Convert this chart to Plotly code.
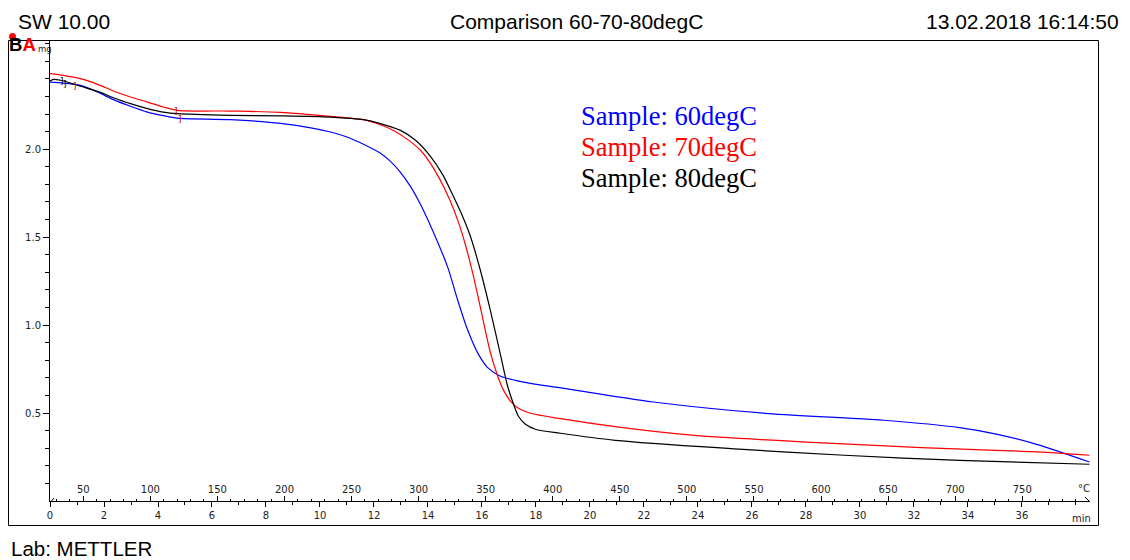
import plotly.graph_objects as go

# ---------------- data (time in min, mass in mg) ----------------
t_60 = [0.0, 0.50, 1.13, 1.76, 2.35, 2.98, 3.61, 4.20, 4.72, 6.69, 8.54, 10.39, 11.02, 11.61, 12.24,
        12.61, 12.98, 13.35, 13.72, 14.20, 14.72, 15.09, 15.46, 15.83, 16.20, 16.69, 17.24, 17.80, 18.80,
        22.35, 26.61, 30.87, 33.69, 35.09, 36.54, 38.50]
m_60 = [2.382, 2.376, 2.363, 2.325, 2.282, 2.244, 2.211, 2.191, 2.177, 2.168, 2.147, 2.098, 2.068, 2.028, 1.977,
        1.931, 1.869, 1.789, 1.687, 1.528, 1.334, 1.147, 0.976, 0.845, 0.760, 0.709, 0.686, 0.669, 0.646,
        0.563, 0.497, 0.459, 0.417, 0.379, 0.322, 0.222]

t_70 = [0.0, 0.50, 1.13, 1.76, 2.35, 2.98, 3.61, 4.20, 4.72, 6.69, 8.54, 10.39, 11.61, 12.24,
        12.72, 13.24, 13.72, 14.09, 14.46, 14.83, 15.13, 15.39, 15.65, 15.94, 16.31, 16.57, 16.80,
        17.06, 17.35, 17.80, 18.91, 21.00, 23.76, 28.02, 32.28, 36.54, 38.50]
m_70 = [2.430, 2.420, 2.401, 2.369, 2.331, 2.297, 2.268, 2.240, 2.221, 2.217, 2.210, 2.187, 2.168, 2.139,
        2.107, 2.056, 1.994, 1.920, 1.823, 1.704, 1.584, 1.454, 1.300, 1.101, 0.845, 0.715, 0.629,
        0.567, 0.527, 0.499, 0.468, 0.421, 0.374, 0.335, 0.304, 0.279, 0.260]

t_80 = [0.0, 0.13, 0.39, 0.76, 1.13, 1.76, 2.35, 2.98, 3.61, 4.20, 4.72, 6.69, 8.54, 10.39, 11.61,
        12.24, 12.98, 13.54, 14.09, 14.54, 14.94, 15.28, 15.57, 15.94, 16.31, 16.69, 16.94, 17.17,
        17.35, 17.61, 17.98, 18.91, 20.94, 25.20, 29.42, 33.69, 38.50]
m_80 = [2.388, 2.397, 2.392, 2.376, 2.358, 2.329, 2.293, 2.259, 2.231, 2.211, 2.202, 2.193, 2.190, 2.183, 2.168,
        2.146, 2.107, 2.051, 1.960, 1.857, 1.732, 1.619, 1.505, 1.312, 1.084, 0.828, 0.658, 0.550,
        0.482, 0.436, 0.408, 0.385, 0.345, 0.298, 0.260, 0.231, 0.209]

series_names = ["Sample: 60degC", "Sample: 70degC", "Sample: 80degC"]
series_colors = ["#0000ff", "#ff0000", "#000000"]

# evaluation-limit bracket marks (time, mass, glyph, colour, size)
brk_t = [-0.08, 0.43, 0.57, 0.94, 4.65, 4.80]
brk_m = [2.40, 2.39, 2.37, 2.36, 2.22, 2.17]
brk_g = ["[", "]", "]", "]", "]", "]"]
brk_c = ["#ff0000", "#000000", "#000000", "#ff0000", "#c00000", "#c00000"]
brk_s = [14, 9, 9, 9, 9, 9]

time_range = [0, 38.52]
time_ticks = list(range(0, 37, 2))
temp_range = [25.2, 800.5]
temp_ticks = list(range(50, 751, 50))
mass_range = [0, 2.621]
mass_ticks = [0, 0.5, 1.0, 1.5, 2.0]

title_left = "SW 10.00"
title_mid = "Comparison 60-70-80degC"
title_right = "13.02.2018 16:14:50"
footer = "Lab: METTLER"

# ---------------- layout geometry ----------------
# the page body has an 8 px margin, so the figure starts at screen (8, 8)
OFF = 8
W, H = 1130 - OFF, 560 - OFF
ML, MR, MT, MB = 42, 40, 32, 59
PW, PH = W - ML - MR, H - MT - MB


def px(x):
    """screen x -> paper x"""
    return (x - OFF - ML) / PW


def py(y):
    """screen y -> paper y"""
    return (OFF + H - MB - y) / PH


fig = go.Figure()
for t, m, name, col in zip([t_60, t_70, t_80], [m_60, m_70, m_80], series_names, series_colors):
    fig.add_trace(go.Scatter(x=t, y=m, mode="lines", name=name,
                             line=dict(color=col, width=1.2, shape="spline", smoothing=0.8),
                             showlegend=False))

# activate temperature axis
fig.add_trace(go.Scatter(x=temp_range, y=[None, None], xaxis="x2", mode="lines",
                         showlegend=False, hoverinfo="skip"))

tick_font = dict(family="DejaVu Sans", size=10, color="#222")

fig.update_layout(
    width=W, height=H,
    margin=dict(l=ML, r=MR, t=MT, b=MB),
    paper_bgcolor="white", plot_bgcolor="white",
    xaxis=dict(range=time_range, showgrid=False, zeroline=False, showline=True,
               linecolor="black", linewidth=1, ticks="outside", ticklen=5, tickcolor="black",
               tickfont=tick_font, tickvals=time_ticks,
               minor=dict(ticks="outside", ticklen=3, dtick=1, tick0=0, tickcolor="black")),
    xaxis2=dict(range=temp_range, overlaying="x", anchor="free", position=0, side="bottom",
                showgrid=False, zeroline=False, showline=False,
                ticks="inside", ticklen=5, tickcolor="black", ticklabelposition="inside",
                tickvals=temp_ticks, tickfont=tick_font,
                minor=dict(ticks="inside", ticklen=2, dtick=10, tick0=0, tickcolor="black")),
    yaxis=dict(range=mass_range, showgrid=False, zeroline=False, showline=True,
               linecolor="black", linewidth=1, ticks="outside", ticklen=6, tickcolor="black",
               tickvals=mass_ticks, tickformat=".1f", tickfont=tick_font,
               minor=dict(ticks="outside", ticklen=4, dtick=0.1, tick0=0, tickcolor="black")),
)

# outer frame
fig.add_shape(type="rect", xref="paper", yref="paper",
              x0=px(8.5), x1=px(1098.5), y0=py(525.5), y1=py(40.5),
              line=dict(color="black", width=1))
# axis end marks
fig.add_shape(type="line", xref="paper", yref="paper", x0=px(50), y0=py(503), x1=px(54), y1=py(498),
              line=dict(color="black", width=1))
fig.add_shape(type="line", xref="paper", yref="paper", x0=px(1085), y0=py(497), x1=px(1090), y1=py(502),
              line=dict(color="black", width=1))

head_font = dict(family="Liberation Sans", size=21, color="black")
ann = []
ann.append(dict(text=title_left, x=px(16), y=py(21), xanchor="left", yanchor="middle", font=head_font))
ann.append(dict(text=title_mid, x=px(576), y=py(21), xanchor="center", yanchor="middle", font=head_font))
ann.append(dict(text=title_right, x=px(1121), y=py(21), xanchor="right", yanchor="middle", font=head_font))
ann.append(dict(text=footer, x=px(9), y=py(548), xanchor="left", yanchor="middle", height=22,
                font=dict(family="Liberation Sans", size=20.5, color="black")))

serif = "Liberation Serif"
for i, (name, col) in enumerate(zip(series_names, series_colors)):
    ann.append(dict(text=name, x=px(579), y=py(116 + 31 * i), xanchor="left", yanchor="middle",
                    font=dict(family=serif, size=26.5, color=col)))

# unit labels
ann.append(dict(text="mg", x=px(35.5), y=py(49), xanchor="left", yanchor="middle",
                font=dict(family="DejaVu Sans", size=8.5, color="#222")))
ann.append(dict(text="°C", x=px(1084), y=py(488), xanchor="center", yanchor="middle", font=tick_font))
ann.append(dict(text="min", x=px(1081), y=py(518), xanchor="center", yanchor="middle", font=tick_font))

# top-left curve identifier glyphs (black B, red A)
ann.append(dict(text="<b>B<span style='color:#ff0000'>A</span></b>", x=px(7), y=py(44),
                xanchor="left", yanchor="middle", height=16,
                font=dict(family="Liberation Sans", size=18.5, color="black")))
fig.add_shape(type="circle", xref="paper", yref="paper", x0=px(9), x1=px(16), y0=py(40), y1=py(33),
              fillcolor="#ff0000", line=dict(color="#ff0000", width=0))

for a in ann:
    a.update(xref="paper", yref="paper", showarrow=False)
    fig.add_annotation(**a)

for t, m, g, c, s in zip(brk_t, brk_m, brk_g, brk_c, brk_s):
    fig.add_annotation(x=t, y=m, xref="x", yref="y", text=g, showarrow=False,
                       font=dict(family="DejaVu Sans", size=s, color=c))

fig.write_html("out.html")
